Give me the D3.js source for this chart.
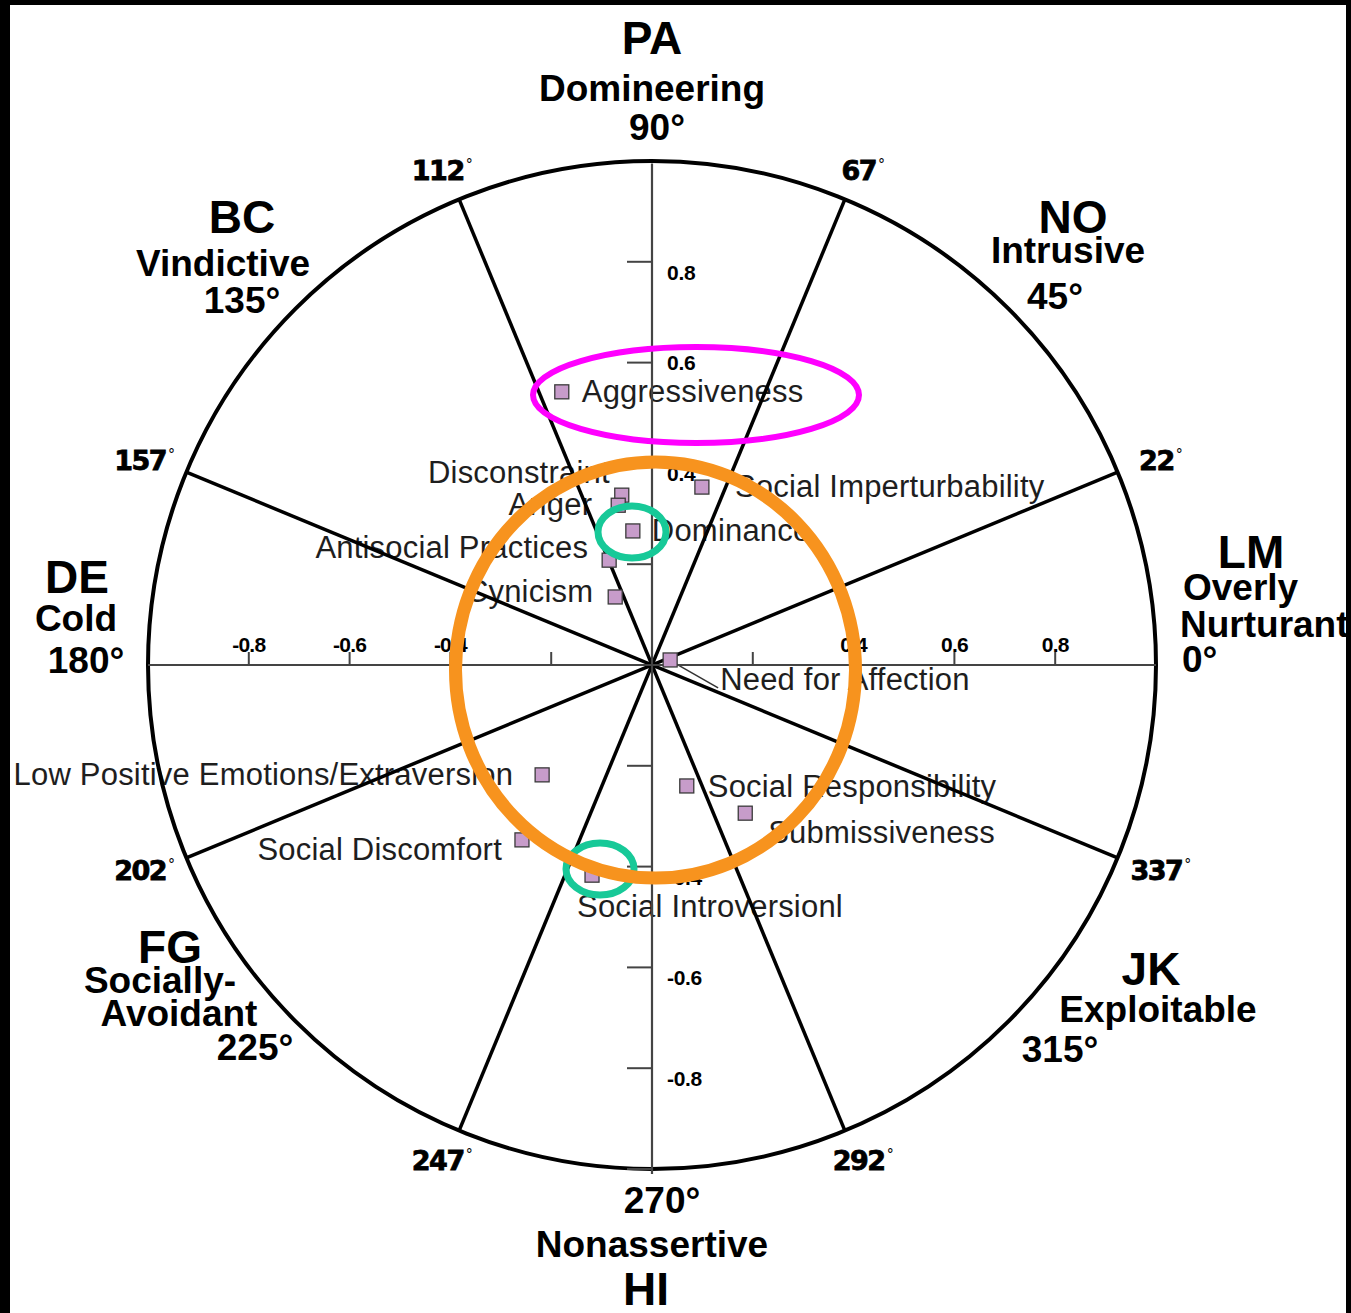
<!DOCTYPE html>
<html>
  <head>
    <style>
      body,
      html {
        margin: 0;
        padding: 0;
        background: #000;
        overflow: hidden;
      }
      svg {
        display: block;
      }
    </style>
  </head>
  <body>
    <script src="https://cdn.jsdelivr.net/npm/d3@7"></script>
    <script>
      const W = 1351;
      const H = 1313;

      // scale points
      const names = [
        "Aggressiveness",
        "Social Imperturbability",
        "Disconstraint",
        "Anger",
        "Dominance",
        "Antisocial Practices",
        "Cynicism",
        "Need for Affection",
        "Low Positive Emotions/Extraversion",
        "Social Discomfort",
        "Social Introversionl",
        "Social Responsibility",
        "Submissiveness",
      ];
      const xVals = [-0.179, 0.099, -0.06, -0.067, -0.038, -0.085, -0.073, 0.036, -0.218, -0.258, -0.119, 0.069, 0.185];
      const yVals = [0.542, 0.353, 0.337, 0.317, 0.266, 0.208, 0.135, 0.01, -0.218, -0.347, -0.417, -0.24, -0.294];

      // octants
      const octCodes = ["LM", "NO", "PA", "BC", "DE", "FG", "HI", "JK"];
      const octNames = ["Overly Nurturant", "Intrusive", "Domineering", "Vindictive", "Cold", "Socially-Avoidant", "Nonassertive", "Exploitable"];
      const octAngles = [0, 45, 90, 135, 180, 225, 270, 315];

      // spoke boundaries
      const spokeAngles = [22.5, 67.5, 112.5, 157.5, 202.5, 247.5, 292.5, 337.5];
      const spokeLabels = ["22", "67", "112", "157", "202", "247", "292", "337"];

      const tickVals = [-0.8, -0.6, -0.4, -0.2, 0.2, 0.4, 0.6, 0.8];
      const tickLabelVals = [-0.8, -0.6, -0.4, 0.4, 0.6, 0.8];

      const cx = 652;
      const cy = 665;
      const R = 504;

      const x = d3.scaleLinear().domain([-1, 1]).range([cx - R, cx + R]);
      const y = d3.scaleLinear().domain([-1, 1]).range([cy + R, cy - R]);

      const svg = d3
        .select("body")
        .append("svg")
        .attr("width", W)
        .attr("height", H);

      svg
        .append("clipPath")
        .attr("id", "page")
        .append("rect")
        .attr("x", 10)
        .attr("y", 5)
        .attr("width", 1336)
        .attr("height", H - 5);

      const g = svg.append("g").attr("clip-path", "url(#page)");

      g.append("rect")
        .attr("x", 10)
        .attr("y", 5)
        .attr("width", 1336)
        .attr("height", H - 5)
        .attr("fill", "#fff");

      const sans = "'Liberation Sans', Arial, Helvetica, sans-serif";

      // point labels (placement relative to the square)
      const labelPos = {
        "Aggressiveness": [20, 10, "start"],
        "Social Imperturbability": [33, 10, "start"],
        "Disconstraint": [-12, -12, "end"],
        "Anger": [-26, 10, "end"],
        "Dominance": [19, 10, "start"],
        "Antisocial Practices": [-21, -2, "end"],
        "Cynicism": [-22, 5, "end"],
        "Need for Affection": [50, 30, "start"],
        "Low Positive Emotions/Extraversion": [-29, 10, "end"],
        "Social Discomfort": [-20, 20, "end"],
        "Social Introversionl": [-15, 42, "start"],
        "Social Responsibility": [21, 11, "start"],
        "Submissiveness": [23, 30, "start"],
      };

      const pts = names.map((n, i) => ({ name: n, x: xVals[i], y: yVals[i] }));

      g.selectAll("text.pt")
        .data(pts)
        .enter()
        .append("text")
        .attr("class", "pt")
        .attr("x", (d) => x(d.x) + labelPos[d.name][0])
        .attr("y", (d) => y(d.y) + labelPos[d.name][1])
        .attr("text-anchor", (d) => labelPos[d.name][2])
        .attr("font-family", sans)
        .attr("font-size", 31)
        .attr("letter-spacing", 0.2)
        .attr("fill", "#1e1e1e")
        .text((d) => d.name);

      // leader for Need for Affection
      const nfa = pts.find((d) => d.name === "Need for Affection");
      g.append("line")
        .attr("x1", x(nfa.x) + 6)
        .attr("y1", y(nfa.y) + 4)
        .attr("x2", x(nfa.x) + 48)
        .attr("y2", y(nfa.y) + 28)
        .attr("stroke", "#333")
        .attr("stroke-width", 1.5);

      // spokes
      const rad = (a) => (a * Math.PI) / 180;
      g.selectAll("line.spoke")
        .data(spokeAngles.slice(0, 4))
        .enter()
        .append("line")
        .attr("class", "spoke")
        .attr("x1", (a) => x(Math.cos(rad(a))))
        .attr("y1", (a) => y(Math.sin(rad(a))))
        .attr("x2", (a) => x(-Math.cos(rad(a))))
        .attr("y2", (a) => y(-Math.sin(rad(a))))
        .attr("stroke", "#000")
        .attr("stroke-width", 3.5);

      // outer circle
      g.append("circle")
        .attr("cx", x(0))
        .attr("cy", y(0))
        .attr("r", x(1) - x(0))
        .attr("fill", "none")
        .attr("stroke", "#000")
        .attr("stroke-width", 4);

      // axes
      g.append("line")
        .attr("x1", x(-1))
        .attr("x2", x(1))
        .attr("y1", y(0))
        .attr("y2", y(0))
        .attr("stroke", "#444")
        .attr("stroke-width", 2.2);
      g.append("line")
        .attr("x1", x(0))
        .attr("x2", x(0))
        .attr("y1", y(0.995))
        .attr("y2", y(-1.01))
        .attr("stroke", "#444")
        .attr("stroke-width", 2.2);

      g.selectAll("line.xt")
        .data(tickVals)
        .enter()
        .append("line")
        .attr("x1", (d) => x(d))
        .attr("x2", (d) => x(d))
        .attr("y1", y(0))
        .attr("y2", y(0) - 13)
        .attr("stroke", "#444")
        .attr("stroke-width", 2);

      g.selectAll("line.yt")
        .data(tickVals.concat([-1]))
        .enter()
        .append("line")
        .attr("x1", x(0) - 25)
        .attr("x2", x(0))
        .attr("y1", (d) => y(d))
        .attr("y2", (d) => y(d))
        .attr("stroke", "#444")
        .attr("stroke-width", 2);

      const fmt = (d) => d3.format(".1f")(d).replace("−", "-");

      g.selectAll("text.xl")
        .data(tickLabelVals)
        .enter()
        .append("text")
        .attr("x", (d) => x(d))
        .attr("y", y(0) - 13)
        .attr("text-anchor", "middle")
        .attr("font-family", sans)
        .attr("font-weight", "bold")
        .attr("font-size", 21)
        .attr("letter-spacing", -0.8)
        .attr("fill", "#000")
        .text(fmt);

      g.selectAll("text.yl")
        .data(tickLabelVals)
        .enter()
        .append("text")
        .attr("x", x(0) + 15)
        .attr("y", (d) => y(d) + (d === 0.6 ? 7 : 18))
        .attr("font-family", sans)
        .attr("font-weight", "bold")
        .attr("font-size", 21)
        .attr("letter-spacing", -0.3)
        .attr("fill", "#000")
        .text(fmt);

      // spoke degree labels
      const labRx = 550 / R;
      const labRy = 536 / R;
      const deg = g
        .selectAll("text.deg")
        .data(spokeAngles)
        .enter()
        .append("text")
        .attr("x", (a) => x(labRx * Math.cos(rad(a))))
        .attr("y", (a) => y(labRy * Math.sin(rad(a))) + 10)
        .attr("text-anchor", "middle")
        .attr("font-family", "'DejaVu Sans', sans-serif")
        .attr("font-weight", "bold")
        .attr("font-size", 27)
        .attr("letter-spacing", -1.5)
        .attr("fill", "#000")
        .attr("stroke", "#000")
        .attr("stroke-width", 0.8);
      deg.append("tspan").text((a, i) => spokeLabels[i]);
      deg
        .append("tspan")
        .attr("dx", 2)
        .attr("dy", -11)
        .attr("font-size", 14)
        .attr("font-weight", "normal")
        .attr("stroke-width", 0)
        .text("°");

      // octant headings
      const octLayout = {
        PA: { ys: [54, 101, 140], xs: [652, 652, 657] },
        NO: { ys: [233, 263, 309], xs: [1073, 1068, 1055] },
        LM: { ys: [568, 600, 637, 672], xs: [1251, 1183, 1180, 1182], start: true },
        BC: { ys: [233, 276, 313], xs: [242, 223, 242] },
        DE: { ys: [593, 631, 673], xs: [77, 76, 86] },
        FG: { ys: [963, 993, 1026, 1060], xs: [170, 160, 179, 255] },
        JK: { ys: [985, 1022, 1062], xs: [1151, 1158, 1060] },
        HI: { ys: [1305, 1257, 1213], xs: [646, 652, 662] },
      };

      octCodes.forEach((code, i) => {
        const L = octLayout[code];
        const words = octNames[i].indexOf("-") > 0
          ? octNames[i].split(/(?<=-)/)
          : code === "LM"
          ? octNames[i].split(" ")
          : [octNames[i]];
        const lines = [code].concat(words).concat([octAngles[i] + "°"]);
        lines.forEach((t, j) => {
          g.append("text")
            .attr("x", L.xs[j])
            .attr("y", L.ys[j])
            .attr("text-anchor", L.start && j > 0 ? "start" : "middle")
            .attr("font-family", sans)
            .attr("font-weight", "bold")
            .attr("font-size", j === 0 ? 46 : 37)
            .attr("fill", "#000")
            .text(t);
        });
      });

      // squares
      g.selectAll("rect.pt")
        .data(pts)
        .enter()
        .append("rect")
        .attr("x", (d) => x(d.x) - 7)
        .attr("y", (d) => y(d.y) - 7)
        .attr("width", 14)
        .attr("height", 14)
        .attr("fill", "#c79cca")
        .attr("stroke", "#3a3a3a")
        .attr("stroke-width", 1.3);

      // highlight annotations
      g.append("ellipse")
        .attr("cx", 696)
        .attr("cy", 395)
        .attr("rx", 163)
        .attr("ry", 48)
        .attr("fill", "none")
        .attr("stroke", "#ff00ff")
        .attr("stroke-width", 6);

      [[632, 532], [600, 869]].forEach((c) => {
        g.append("ellipse")
          .attr("cx", c[0])
          .attr("cy", c[1])
          .attr("rx", 34)
          .attr("ry", 26)
          .attr("fill", "none")
          .attr("stroke", "#17c998")
          .attr("stroke-width", 7);
      });

      g.append("ellipse")
        .attr("cx", 655.5)
        .attr("cy", 670)
        .attr("rx", 200)
        .attr("ry", 208)
        .attr("fill", "none")
        .attr("stroke", "#f7931e")
        .attr("stroke-width", 13);
    </script>
  </body>
</html>
